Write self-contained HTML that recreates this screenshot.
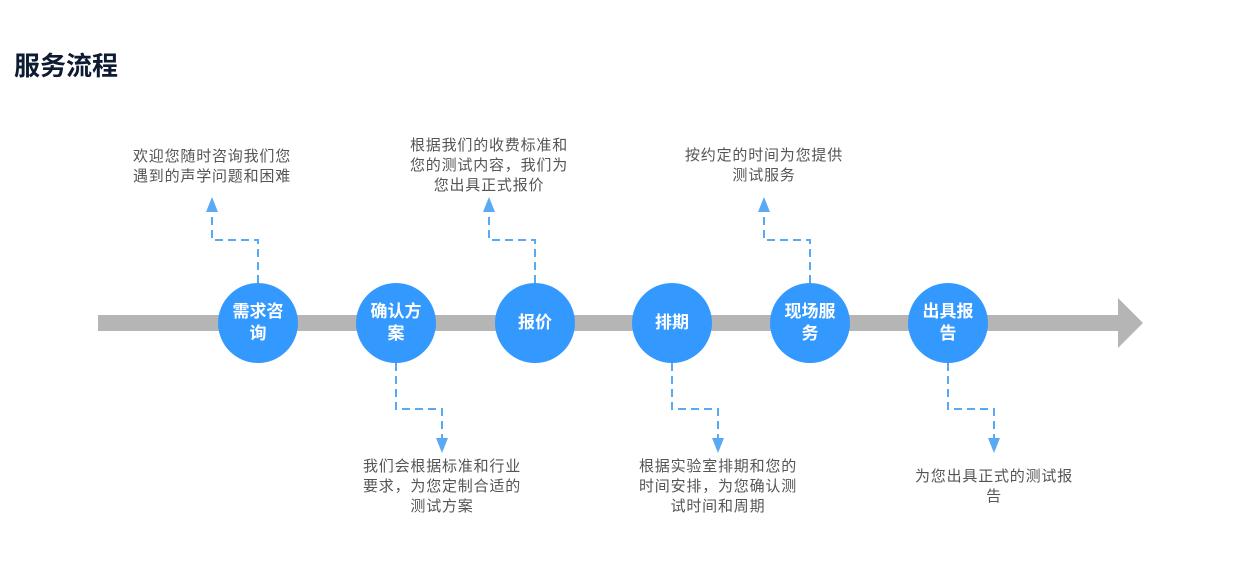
<!DOCTYPE html>
<html><head><meta charset="utf-8"><style>
body{margin:0;width:1250px;height:569px;background:#fff;position:relative;overflow:hidden;font-family:"Liberation Sans","Noto Sans CJK SC",sans-serif;}
.t{position:absolute;font-size:15px;letter-spacing:0.8px;line-height:20px;color:#555;text-align:center;white-space:nowrap;transform:translateX(-50%);}
.c{position:absolute;width:80px;height:80px;border-radius:50%;background:#3399ff;color:#fff;font-weight:bold;font-size:17px;line-height:22px;display:flex;align-items:center;justify-content:center;text-align:center;top:283px;}
.c span{width:60px;}
</style></head><body>
<div style="position:absolute;left:14px;top:46px;font-size:26px;font-weight:bold;color:#0d1b33;">服务流程</div>
<svg width="1250" height="569" style="position:absolute;left:0;top:0">
<rect x="98" y="315" width="1022" height="16" fill="#b5b5b5"/>
<polygon points="1118,298 1143,323 1118,348" fill="#b5b5b5"/>
<g fill="none" stroke="#5aa9f5" stroke-width="2" stroke-dasharray="8,5">
<path d="M258 283 V240 H212 V210"/>
<path d="M535 283 V240 H489 V210"/>
<path d="M810 283 V240 H764 V210"/>
<path d="M396 363 V409 H442 V440"/>
<path d="M672 363 V409 H718 V440"/>
<path d="M948 363 V409 H994 V440"/>
</g>
<g fill="#5aa9f5">
<polygon points="212,197 206,212 218,212"/>
<polygon points="489,197 483,212 495,212"/>
<polygon points="764,197 758,212 770,212"/>
<polygon points="442,453 436,438 448,438"/>
<polygon points="718,453 712,438 724,438"/>
<polygon points="994,453 988,438 1000,438"/>
</g>
</svg>
<div class="c" style="left:218px"><span>需求咨询</span></div>
<div class="c" style="left:356px"><span>确认方案</span></div>
<div class="c" style="left:495px"><span>报价</span></div>
<div class="c" style="left:632px"><span>排期</span></div>
<div class="c" style="left:770px"><span>现场服务</span></div>
<div class="c" style="left:908px"><span>出具报告</span></div>
<div class="t" style="left:212px;top:147px">欢迎您随时咨询我们您<br>遇到的声学问题和困难</div>
<div class="t" style="left:489px;top:136px">根据我们的收费标准和<br>您的测试内容，我们为<br>您出具正式报价</div>
<div class="t" style="left:764px;top:146px">按约定的时间为您提供<br>测试服务</div>
<div class="t" style="left:442px;top:457px">我们会根据标准和行业<br>要求，为您定制合适的<br>测试方案</div>
<div class="t" style="left:718px;top:457px">根据实验室排期和您的<br>时间安排，为您确认测<br>试时间和周期</div>
<div class="t" style="left:994px;top:467px">为您出具正式的测试报<br>告</div>
</body></html>
